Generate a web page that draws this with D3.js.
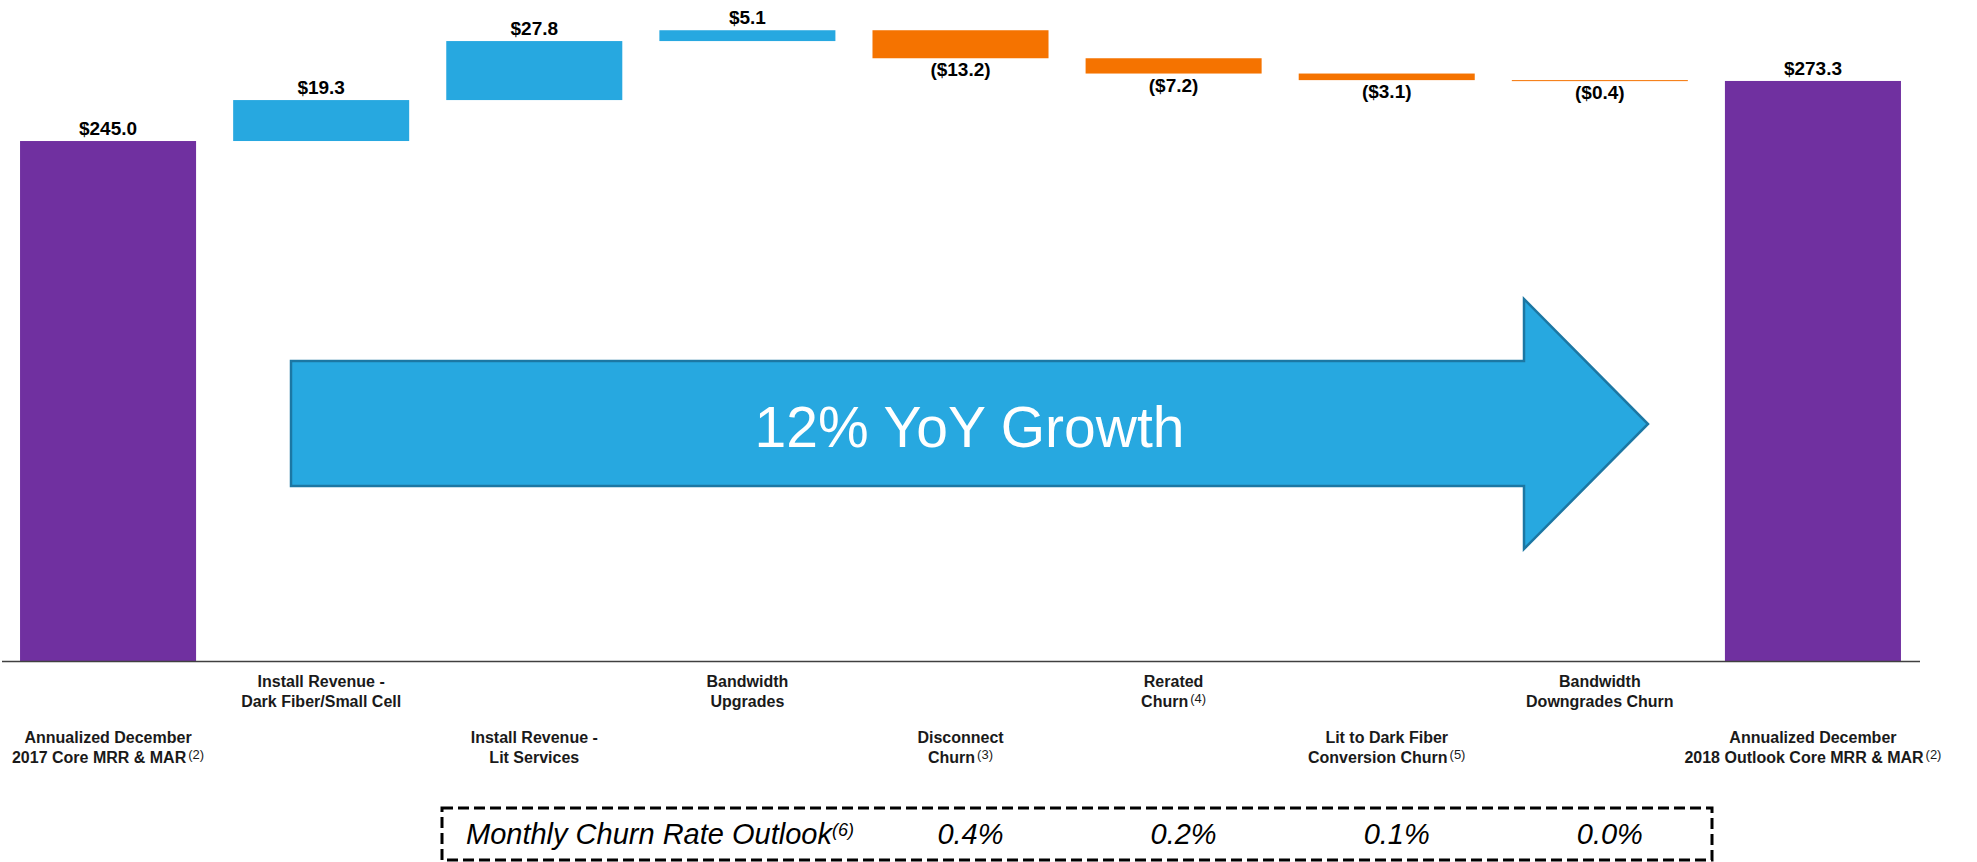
<!DOCTYPE html>
<html lang="en">
<head>
	<meta charset="UTF-8">
	<title>Core MRR & MAR bridge</title>
	<script type="text/javascript" src="https://cdn.jsdelivr.net/npm/d3@7"></script>
	<style>
		body { margin: 0; background: #ffffff; }
		text { font-family: "Liberation Sans", Arial, sans-serif; }
	</style>
</head>
<body>
	<div id="chart"></div>
	<script type="text/javascript">
		// data
		var categories = [
			["Annualized December", "2017 Core MRR & MAR"],
			["Install Revenue -", "Dark Fiber/Small Cell"],
			["Install Revenue -", "Lit Services"],
			["Bandwidth", "Upgrades"],
			["Disconnect", "Churn"],
			["Rerated", "Churn"],
			["Lit to Dark Fiber", "Conversion Churn"],
			["Bandwidth", "Downgrades Churn"],
			["Annualized December", "2018 Outlook Core MRR & MAR"]
		];
		var footnotes = ["(2)", "", "", "", "(3)", "(4)", "(5)", "", "(2)"];
		var values = [245.0, 19.3, 27.8, 5.1, -13.2, -7.2, -3.1, -0.4, 273.3];
		var isTotal = [true, false, false, false, false, false, false, false, true];

		var churnTitle = "Monthly Churn Rate Outlook";
		var churnNote = "(6)";
		var churnCats = [4, 5, 6, 7];
		var churnRates = ["0.4%", "0.2%", "0.1%", "0.0%"];

		var arrowText = "12% YoY Growth";

		var w = 1977;
		var h = 862;
		var baseY = 661;

		var svg = d3.select("#chart").append("svg")
			.attr("width", w)
			.attr("height", h);

		var xScale = d3.scaleBand()
			.domain(d3.range(values.length))
			.range([1.5, 1919.5])
			.paddingInner(0.174)
			.paddingOuter(0.087);

		var yScale = d3.scaleLinear()
			.domain([0, 300])
			.range([baseY, baseY - 636.7]);

		// running totals for the waterfall
		var run = 0;
		var bars = values.map(function(v, i) {
			var b;
			if (isTotal[i]) {
				b = { i: i, v: v, lo: 0, hi: v, type: "total" };
				run = v;
			} else {
				b = { i: i, v: v, lo: Math.min(run, run + v), hi: Math.max(run, run + v), type: v >= 0 ? "up" : "down" };
				run = run + v;
			}
			return b;
		});

		var colors = { total: "#7030a0", up: "#27a8e0", down: "#f57300" };

		// growth arrow sits behind everything
		var ax0 = 291, axNeck = 1524, axTip = 1648;
		var ayTop = 361, ayBot = 486, ayHeadTop = 299, ayHeadBot = 549;
		var ayMid = (ayHeadTop + ayHeadBot) / 2;
		svg.append("path")
			.attr("d", "M" + ax0 + "," + ayTop + " L" + axNeck + "," + ayTop + " L" + axNeck + "," + ayHeadTop +
				" L" + axTip + "," + ayMid + " L" + axNeck + "," + ayHeadBot + " L" + axNeck + "," + ayBot +
				" L" + ax0 + "," + ayBot + " Z")
			.attr("fill", "#27a8e0")
			.attr("stroke", "#1c77a3")
			.attr("stroke-width", 2.5);

		svg.append("text")
			.attr("x", (ax0 + axTip) / 2)
			.attr("y", 447)
			.attr("text-anchor", "middle")
			.attr("font-size", "57px")
			.attr("fill", "#ffffff")
			.text(arrowText);

		svg.selectAll(".bar")
			.data(bars)
			.enter()
			.append("rect")
			.classed("bar", true)
			.attr("x", function(d) { return xScale(d.i); })
			.attr("width", xScale.bandwidth())
			.attr("y", function(d) { return yScale(d.hi); })
			.attr("height", function(d) { return Math.max(1, yScale(d.lo) - yScale(d.hi)); })
			.attr("fill", function(d) { return colors[d.type]; });

		svg.selectAll(".val-label")
			.data(bars)
			.enter()
			.append("text")
			.classed("val-label", true)
			.attr("x", function(d) { return xScale(d.i) + xScale.bandwidth() / 2; })
			.attr("y", function(d) { return d.v < 0 ? yScale(d.lo) + 18 : yScale(d.hi) - 6; })
			.attr("text-anchor", "middle")
			.attr("font-size", "19px")
			.attr("font-weight", "bold")
			.attr("fill", "#000000")
			.text(function(d) {
				var s = "$" + Math.abs(d.v).toFixed(1);
				return d.v < 0 ? "(" + s + ")" : s;
			});

		svg.append("g")
			.attr("transform", "translate(0," + baseY + ")")
			.call(d3.axisBottom(xScale).tickSize(0).tickFormat(""))
			.call(function(g) {
				g.select(".domain").attr("stroke", "#404040").attr("stroke-width", 1.5);
			});

		// category labels, staggered in two rows
		var catLabels = svg.selectAll(".cat-label")
			.data(categories)
			.enter()
			.append("text")
			.classed("cat-label", true)
			.attr("text-anchor", "middle")
			.attr("font-size", "16px")
			.attr("font-weight", "bold")
			.attr("fill", "#1a1a1a")
			.attr("y", function(d, i) { return i % 2 == 1 ? 687 : 743; });

		catLabels.append("tspan")
			.attr("x", function(d, i) { return xScale(i) + xScale.bandwidth() / 2; })
			.text(function(d) { return d[0]; });

		catLabels.append("tspan")
			.attr("x", function(d, i) { return xScale(i) + xScale.bandwidth() / 2; })
			.attr("dy", 20)
			.text(function(d) { return d[1]; });

		catLabels.append("tspan")
			.attr("dx", 2)
			.attr("dy", -4)
			.attr("font-size", "13px")
			.attr("font-weight", "normal")
			.text(function(d, i) { return footnotes[i]; });

		// churn outlook box
		svg.append("rect")
			.attr("x", 442)
			.attr("y", 808)
			.attr("width", 1270)
			.attr("height", 52)
			.attr("fill", "none")
			.attr("stroke", "#000000")
			.attr("stroke-width", 3)
			.attr("stroke-dasharray", "11,5");

		var churnText = svg.append("text")
			.attr("x", 466)
			.attr("y", 844)
			.attr("font-size", "29px")
			.attr("font-style", "italic")
			.attr("fill", "#000000");
		churnText.append("tspan").text(churnTitle);
		churnText.append("tspan")
			.attr("dy", -8)
			.attr("font-size", "18px")
			.text(churnNote);

		svg.selectAll(".churn-rate")
			.data(churnRates)
			.enter()
			.append("text")
			.classed("churn-rate", true)
			.attr("x", function(d, i) { return xScale(churnCats[i]) + xScale.bandwidth() / 2 + 10; })
			.attr("y", 844)
			.attr("text-anchor", "middle")
			.attr("font-size", "29px")
			.attr("font-style", "italic")
			.attr("fill", "#000000")
			.text(function(d) { return d; });
	</script>
</body>
</html>
